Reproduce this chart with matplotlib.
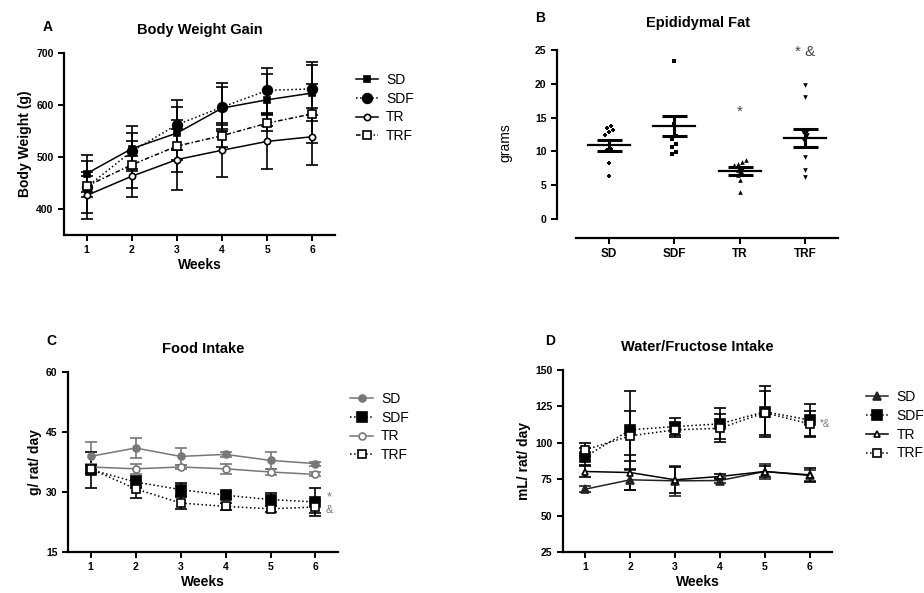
import numpy as np
import matplotlib.pyplot as plt
from matplotlib.container import ErrorbarContainer

plt.rcParams['font.family'] = ['Liberation Sans', 'DejaVu Sans']

# =============================================================================
# data
# =============================================================================
weeks = [1, 2, 3, 4, 5, 6]

# A - body weight (g)
bw_sd = [468, 516, 546, 594, 610, 623]
bw_sd_err = [35, 43, 51, 40, 50, 53]
bw_sdf = [442, 511, 562, 596, 628, 631]
bw_sdf_err = [50, 35, 48, 46, 43, 51]
bw_tr = [426, 463, 495, 513, 530, 539]
bw_tr_err = [45, 39, 58, 52, 53, 55]
bw_trf = [444, 485, 521, 541, 565, 583]
bw_trf_err = [20, 45, 50, 21, 16, 57]

# B - epididymal fat (g)
groups = ['SD', 'SDF', 'TR', 'TRF']
fat_sd = [13.7, 13.5, 13.1, 12.9, 12.5, 10.4, 10.2, 8.3, 6.3]
fat_sdf = [23.3, 14.0, 12.3, 11.8, 11.1, 10.6, 9.9, 9.6]
fat_tr = [8.7, 8.5, 8.2, 8.0, 7.5, 7.2, 6.8, 6.5, 5.8, 4.0]
fat_trf = [19.8, 18.0, 13.0, 12.8, 12.5, 11.8, 9.2, 7.3, 6.2]
fat_mean = [10.9, 13.8, 7.1, 12.0]
fat_sem = [0.8, 1.5, 0.6, 1.3]
fat_marks = ['', '', '*', '* &']
fat_mark_y = [0, 0, 15.9, 24.7]

# C - food intake (g/rat/day)
fi_sd = [38.9, 41.0, 38.9, 39.4, 37.9, 37.1]
fi_sd_err = [3.6, 2.5, 2.1, 0.6, 2.1, 0.5]
fi_sdf = [35.6, 32.5, 30.6, 29.2, 28.1, 27.5]
fi_sdf_err = [4.5, 1.5, 1.65, 0.7, 1.6, 3.5]
fi_tr = [36.25, 35.8, 36.25, 35.8, 35.0, 34.4]
fi_tr_err = [0.8, 1.2, 0.6, 1.2, 0.8, 0.5]
fi_trf = [35.8, 30.8, 27.25, 26.4, 25.8, 26.25]
fi_trf_err = [1.0, 2.3, 1.6, 0.8, 0.8, 1.6]

# D - water / fructose intake (mL/rat/day)
wi_sd = [68.2, 74.6, 73.9, 74.1, 80.3, 77.6]
wi_sd_err = [2.0, 7.0, 10.3, 1.5, 5.0, 4.0]
wi_sdf = [90.6, 108.9, 111.2, 113.0, 121.4, 115.7]
wi_sdf_err = [6.0, 27.0, 5.7, 10.7, 17.6, 11.0]
wi_tr = [80.3, 79.6, 74.6, 76.9, 80.3, 78.0]
wi_tr_err = [4.0, 12.0, 9.0, 1.5, 4.0, 5.0]
wi_trf = [95.2, 104.8, 108.9, 110.0, 120.7, 113.0]
wi_trf_err = [4.5, 17.0, 5.0, 9.7, 15.0, 8.7]


# =============================================================================
# helpers
# =============================================================================
def style_ax(ax):
    ax.spines['top'].set_visible(False)
    ax.spines['right'].set_visible(False)
    for s in ['left', 'bottom']:
        ax.spines[s].set_linewidth(1.6)
    ax.tick_params(width=1.4, length=4, labelsize=7.5)
    for lab in ax.get_xticklabels() + ax.get_yticklabels():
        lab.set_fontweight('bold')


def series(ax, y, err, color, ls, marker, ms, mfc, label):
    ax.errorbar(weeks, y, yerr=err, color=color, ls=ls, lw=1.1,
                marker=marker, ms=ms, mfc=mfc, mec=color, mew=1.2,
                capsize=4, capthick=1.2, elinewidth=1.2, label=label,
                clip_on=False)


def legend(ax, x):
    handles, labels = ax.get_legend_handles_labels()
    # only the line + marker, no error bar in the key
    handles = [h[0] if isinstance(h, ErrorbarContainer) else h
               for h in handles]
    ax.legend(handles, labels, loc='upper left', bbox_to_anchor=(x, 0.96),
              frameon=False, fontsize=10, handlelength=1.6,
              handletextpad=0.6, labelspacing=0.35)


def swarm(vals, step=0.06, tol=0.7):
    """ spread points that sit at about the same height """
    vals = np.asarray(vals, dtype=float)
    order = np.argsort(vals)
    offs = np.zeros(len(vals))
    clusters = [[order[0]]]
    for k in order[1:]:
        if vals[k] - vals[clusters[-1][0]] < tol:
            clusters[-1].append(k)
        else:
            clusters.append([k])
    for c in clusters:
        n = len(c)
        offs[c] = (np.arange(n) - (n - 1) / 2) * step
    return offs


fig = plt.figure(figsize=(9.24, 5.93), dpi=100)

# =============================================================================
# A
# =============================================================================
ax1 = fig.add_axes([0.0693, 0.6037, 0.2933, 0.307])
series(ax1, bw_sd, bw_sd_err, 'black', '-', 's', 4, 'black', 'SD')
series(ax1, bw_sdf, bw_sdf_err, 'black', ':', 'o', 7, 'black', 'SDF')
series(ax1, bw_tr, bw_tr_err, 'black', '-', 'o', 4.5, 'white', 'TR')
series(ax1, bw_trf, bw_trf_err, 'black', (0, (3, 1.5, 1, 1.5)), 's', 6,
       'white', 'TRF')
ax1.set_xlim(0.5, 6.5)
ax1.set_ylim(350, 700)
ax1.set_xticks(weeks)
ax1.set_yticks([400, 500, 600, 700])
ax1.spines['left'].set_bounds(350, 700)
ax1.set_xlabel('Weeks', fontsize=10, fontweight='bold', labelpad=2)
ax1.set_ylabel('Body Weight (g)', fontsize=10, fontweight='bold', labelpad=3)
ax1.set_title('Body Weight Gain', fontsize=10.5, fontweight='bold', pad=14)
style_ax(ax1)
legend(ax1, 1.03)
fig.text(0.046, 0.955, 'A', fontsize=10, fontweight='bold', va='center')

# =============================================================================
# B
# =============================================================================
ax2 = fig.add_axes([0.6028, 0.5987, 0.3042, 0.3227])
fat_sets = [fat_sd, fat_sdf, fat_tr, fat_trf]
fat_mk = ['P', 's', '^', 'v']
for i, vals in enumerate(fat_sets):
    ax2.scatter(i + swarm(vals), vals, s=11, marker=fat_mk[i],
                color='black', zorder=3, linewidths=0)
    ax2.plot([i - 0.32, i + 0.32], [fat_mean[i]] * 2, color='black', lw=1.6)
    ax2.errorbar(i, fat_mean[i], yerr=fat_sem[i], color='black', capsize=9,
                 capthick=2.2, elinewidth=2.2, fmt='none')
    if fat_marks[i]:
        ax2.text(i, fat_mark_y[i], fat_marks[i], ha='center', va='center',
                 fontsize=11, color='#444444')
ax2.set_xlim(-0.79, 3.5)
ax2.set_ylim(-2.8, 25.5)
ax2.set_xticks(range(4))
ax2.set_xticklabels(groups)
ax2.set_yticks([0, 5, 10, 15, 20, 25])
ax2.spines['left'].set_bounds(0, 25)
ax2.spines['bottom'].set_bounds(-0.5, 3.5)
ax2.set_ylabel('grams', fontsize=10, labelpad=16)
ax2.set_title('Epididymal Fat', fontsize=10.5, fontweight='bold', pad=14)
style_ax(ax2)
ax2.tick_params(axis='x', labelsize=8.5)
fig.text(0.579, 0.97, 'B', fontsize=10, fontweight='bold', va='center')

# =============================================================================
# C
# =============================================================================
gray = '#777777'
ax3 = fig.add_axes([0.0736, 0.0691, 0.2922, 0.3036])
series(ax3, fi_sd, fi_sd_err, gray, '-', 'o', 5, gray, 'SD')
series(ax3, fi_sdf, fi_sdf_err, 'black', ':', 's', 6.5, 'black', 'SDF')
series(ax3, fi_tr, fi_tr_err, gray, '-', 'o', 5, 'white', 'TR')
series(ax3, fi_trf, fi_trf_err, 'black', ':', 's', 6, 'white', 'TRF')
ax3.text(6.3, 28.75, '*', fontsize=9, color=gray, ha='center', va='center')
ax3.text(6.3, 25.4, '&', fontsize=8, color=gray, ha='center', va='center')
ax3.set_xlim(0.5, 6.5)
ax3.set_ylim(15, 60)
ax3.set_xticks(weeks)
ax3.set_yticks([15, 30, 45, 60])
ax3.set_xlabel('Weeks', fontsize=10, fontweight='bold', labelpad=2)
ax3.set_ylabel('g/ rat/ day', fontsize=10, fontweight='bold', labelpad=3)
ax3.set_title('Food Intake', fontsize=10.5, fontweight='bold', pad=14)
style_ax(ax3)
legend(ax3, 1.0)
fig.text(0.05, 0.425, 'C', fontsize=10, fontweight='bold', va='center')

# =============================================================================
# D
# =============================================================================
ax4 = fig.add_axes([0.6093, 0.0691, 0.2911, 0.3069])
series(ax4, wi_sd, wi_sd_err, '#222222', '-', '^', 6, '#222222', 'SD')
series(ax4, wi_sdf, wi_sdf_err, 'black', ':', 's', 7, 'black', 'SDF')
series(ax4, wi_tr, wi_tr_err, 'black', '-', '^', 5, 'white', 'TR')
series(ax4, wi_trf, wi_trf_err, 'black', ':', 's', 6, 'white', 'TRF')
ax4.text(6.35, 113, '*&', fontsize=7, color=gray, ha='center', va='center')
ax4.set_xlim(0.5, 6.5)
ax4.set_ylim(25, 150)
ax4.set_xticks(weeks)
ax4.set_yticks([25, 50, 75, 100, 125, 150])
ax4.set_xlabel('Weeks', fontsize=10, fontweight='bold', labelpad=2)
ax4.set_ylabel('mL/ rat/ day', fontsize=10, fontweight='bold', labelpad=3)
ax4.set_title('Water/Fructose Intake', fontsize=10.5, fontweight='bold',
              pad=14)
style_ax(ax4)
legend(ax4, 1.08)
fig.text(0.59, 0.425, 'D', fontsize=10, fontweight='bold', va='center')

fig.savefig('out.png', dpi=100)
